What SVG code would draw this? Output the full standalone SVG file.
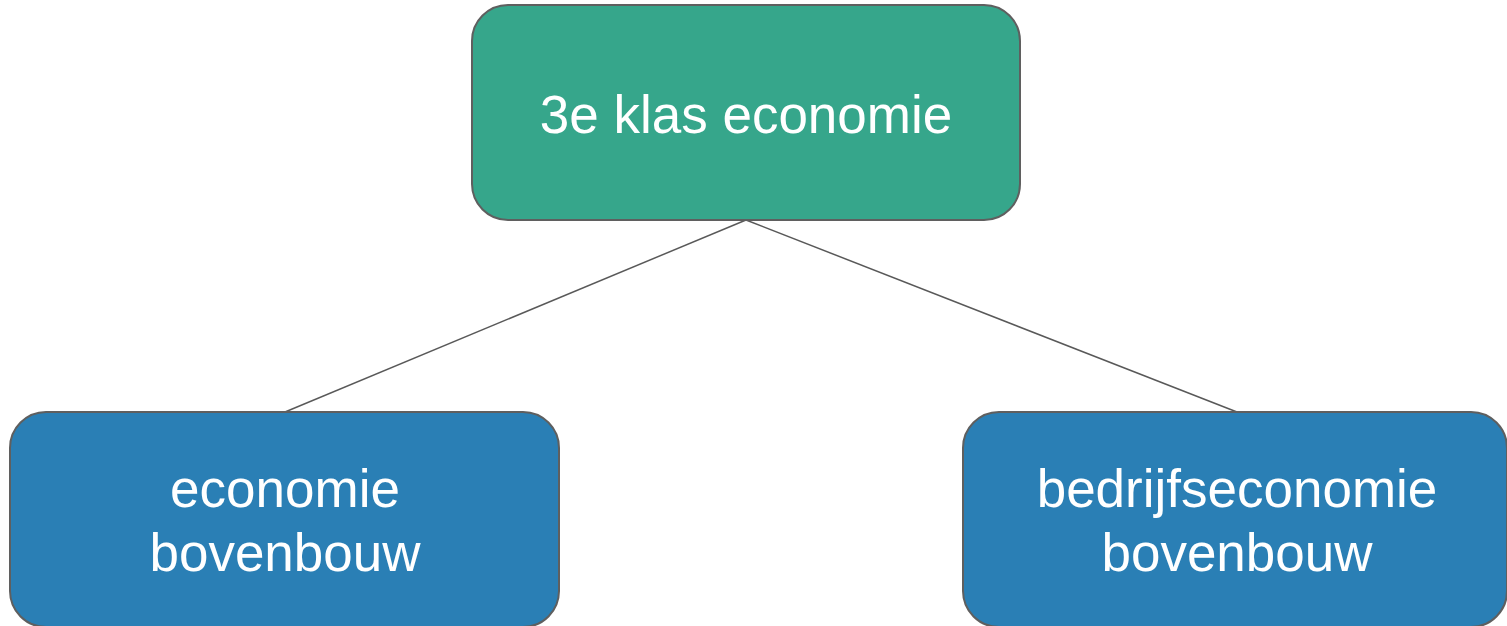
<svg xmlns="http://www.w3.org/2000/svg" width="1507" height="626" viewBox="0 0 1507 626">
<style>
.node{stroke:#5f5f5f;stroke-width:2}
.top{fill:#36a68b}
.bot{fill:#2a7fb5}
.lbl{font-family:"Liberation Sans",Arial,sans-serif;font-size:53px;fill:#ffffff;text-anchor:middle}
.edge{stroke:#595959;stroke-width:1.5;fill:none}
</style>
<rect width="1507" height="626" fill="#ffffff"/>
<g id="connectors">
<line class="edge" x1="746" y1="220" x2="285" y2="412"/>
<line class="edge" x1="746" y1="220" x2="1237" y2="412"/>
</g>
<g id="node-top">
<rect class="node top" x="472" y="5" width="548" height="215" rx="36" ry="36"/>
<text class="lbl" x="746" y="133">3e klas economie</text>
</g>
<g id="node-left">
<rect class="node bot" x="10" y="412" width="549" height="215" rx="36" ry="36"/>
<text class="lbl" x="285" y="507">economie</text>
<text class="lbl" x="285" y="571">bovenbouw</text>
</g>
<g id="node-right">
<rect class="node bot" x="963" y="412" width="544" height="215" rx="36" ry="36"/>
<text class="lbl" x="1237" y="507">bedrijfseconomie</text>
<text class="lbl" x="1237" y="571">bovenbouw</text>
</g>
</svg>
